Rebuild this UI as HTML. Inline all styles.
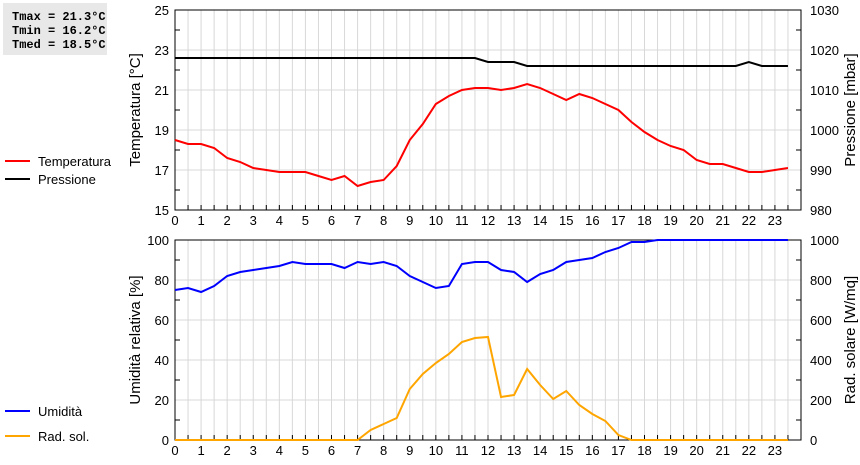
<!DOCTYPE html>
<html><head><meta charset="utf-8"><style>
body{margin:0;background:#fff;width:860px;height:460px;overflow:hidden;font-family:"Liberation Sans",sans-serif}
svg text{font-family:"Liberation Sans",sans-serif}
svg text.mono{font-family:"Liberation Mono",monospace;font-weight:bold;font-size:12px}
</style></head><body>
<svg id="c" width="860" height="460" xmlns="http://www.w3.org/2000/svg">
<rect x="3" y="3" width="104" height="52" fill="#e8e8e8"/>
<text class="mono" x="12" y="20">Tmax = 21.3°C</text>
<text class="mono" x="12" y="34">Tmin = 16.2°C</text>
<text class="mono" x="12" y="48">Tmed = 18.5°C</text>
</svg>
<script>
const hours=[0,0.5,1,1.5,2,2.5,3,3.5,4,4.5,5,5.5,6,6.5,7,7.5,8,8.5,9,9.5,10,10.5,11,11.5,12,12.5,13,13.5,14,14.5,15,15.5,16,16.5,17,17.5,18,18.5,19,19.5,20,20.5,21,21.5,22,22.5,23,23.5];
const temperature=[18.5,18.3,18.3,18.1,17.6,17.4,17.1,17.0,16.9,16.9,16.9,16.7,16.5,16.7,16.2,16.4,16.5,17.2,18.5,19.3,20.3,20.7,21.0,21.1,21.1,21.0,21.1,21.3,21.1,20.8,20.5,20.8,20.6,20.3,20.0,19.4,18.9,18.5,18.2,18.0,17.5,17.3,17.3,17.1,16.9,16.9,17.0,17.1];
const pressure=[1018,1018,1018,1018,1018,1018,1018,1018,1018,1018,1018,1018,1018,1018,1018,1018,1018,1018,1018,1018,1018,1018,1018,1018,1017,1017,1017,1016,1016,1016,1016,1016,1016,1016,1016,1016,1016,1016,1016,1016,1016,1016,1016,1016,1017,1016,1016,1016];
const humidity=[75,76,74,77,82,84,85,86,87,89,88,88,88,86,89,88,89,87,82,79,76,77,88,89,89,85,84,79,83,85,89,90,91,94,96,99,99,100,100,100,100,100,100,100,100,100,100,100];
const radiation=[0,0,0,0,0,0,0,0,0,0,0,0,0,0,0,50,80,110,255,330,385,430,490,510,515,215,225,355,275,205,245,175,130,95,25,0,0,0,0,0,0,0,0,0,0,0,0,0];
const tempTicks=[15,17,19,21,23,25];
const presTicks=[980,990,1000,1010,1020,1030];
const humTicks=[0,20,40,60,80,100];
const radTicks=[0,200,400,600,800,1000];
const hourTicks=[0,1,2,3,4,5,6,7,8,9,10,11,12,13,14,15,16,17,18,19,20,21,22,23];

const svg=document.getElementById('c');
const NS='http://www.w3.org/2000/svg';
const L=175,R=801;
const xs=h=>L+(R-L)*h/24;
function mk(tag,a,parent){const e=document.createElementNS(NS,tag);for(const k in a)e.setAttribute(k,a[k]);(parent||svg).appendChild(e);return e;}
function panel(top,bot,lmin,lmax,rmin,rmax,lt,rt,lTitle,rTitle,pfx){
  const g=mk('g',{});
  
  
  const yl=v=>bot-(bot-top)*(v-lmin)/(lmax-lmin);
  const yr=v=>bot-(bot-top)*(v-rmin)/(rmax-rmin);
  for(let h=0.5;h<24;h+=0.5){const x=xs(h);const l=mk('line',{x1:x,x2:x,y1:top,y2:bot,stroke:'#d8d8d8','stroke-width':1},g);
    mk('line',{x1:x,x2:x,y1:bot,y2:bot-5,stroke:'#000'},g);}
  lt.forEach(v=>{const y=yl(v);const l=mk('line',{x1:L,x2:R,y1:y,y2:y,stroke:'#d8d8d8'},g);
    const tx=mk('text',{x:L-6,y:y+5,'text-anchor':'end','font-size':13},g);tx.textContent=v;});
  for(let i=0;i<lt.length-1;i++){const y=(yl(lt[i])+yl(lt[i+1]))/2;mk('line',{x1:L,x2:L+5,y1:y,y2:y,stroke:'#000'},g);mk('line',{x1:R,x2:R-5,y1:y,y2:y,stroke:'#000'},g);}
  rt.forEach(v=>{const y=yr(v);const tx=mk('text',{x:R+9,y:y+5,'font-size':13},g);tx.textContent=v;});
  hourTicks.forEach(h=>{const tx=mk('text',{x:xs(h),y:bot+15,'text-anchor':'middle','font-size':13},g);tx.textContent=h;});
  const fr=mk('rect',{x:L,y:top,width:R-L,height:bot-top,fill:'none',stroke:'#000','stroke-width':1},g);
  
  const t1=mk('text',{transform:`translate(140,${(top+bot)/2}) rotate(-90)`,'text-anchor':'middle','font-size':15},g);t1.textContent=lTitle;
  
  const t2=mk('text',{transform:`translate(855,${(top+bot)/2}) rotate(-90)`,'text-anchor':'middle','font-size':15},g);t2.textContent=rTitle;
  
  return {yl,yr};
}
function series(vals,yf,color,name){
  const p=mk('polyline',{points:vals.map((v,i)=>xs(hours[i])+','+yf(v)).join(' '),fill:'none',stroke:color,'stroke-width':2});
  
}
function legend(y,color,label,name){
  const g=mk('g',{});
  
  mk('line',{x1:5,x2:30,y1:y,y2:y,stroke:color,'stroke-width':2},g);
  const t=mk('text',{x:38,y:y+5,'font-size':13},g);t.textContent=label;
}
const a=panel(10,210,15,25,980,1030,tempTicks,presTicks,'Temperatura [°C]','Pressione [mbar]','top');
series(pressure,a.yr,'#000','pressure-line');
series(temperature,a.yl,'#f00','temperature-line');
const b=panel(240,440,0,100,0,1000,humTicks,radTicks,'Umidità relativa [%]','Rad. solare [W/mq]','bottom');
series(radiation,b.yr,'#ffa500','radiation-line');
series(humidity,b.yl,'#00f','humidity-line');
legend(161,'#f00','Temperatura','legend-temperatura');
legend(179,'#000','Pressione','legend-pressione');
legend(411,'#00f','Umidità','legend-umidita');
legend(436,'#ffa500','Rad. sol.','legend-rad-sol');
</script>
</body></html>
